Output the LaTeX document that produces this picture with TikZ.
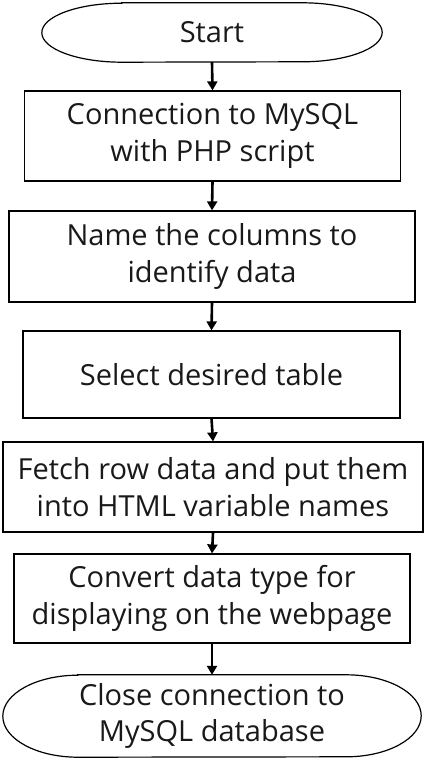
\documentclass[tikz,border=0pt]{standalone}
\usepackage{fontspec}
\setmainfont{Open Sans}
\usetikzlibrary{arrows.meta,calc}
\begin{document}
\begin{tikzpicture}[x=1pt,y=-1pt,
  box/.style={draw=black,line width=1.2pt,inner sep=0pt,align=center,
    font=\fontsize{29}{36.5}\selectfont,text=black!90},
  term/.style={inner sep=0pt,align=center,font=\fontsize{29}{36.5}\selectfont,text=black!90},
  arr/.style={line width=2.6pt,-{Triangle[length=9pt,width=10pt]}}]
\useasboundingbox (0,0) rectangle (425,759);
\node[term,minimum width=340pt,minimum height=59pt] (s) at (212,32.5) {Start};
\node[box,minimum width=376pt,minimum height=90pt] (b1) at (212.5,136) {Connection to MySQL\\with PHP script};
\node[box,minimum width=406pt,minimum height=91pt] (b2) at (212,256.5) {Name the columns to\\identify data};
\node[box,minimum width=377pt,minimum height=87pt] (b3) at (211.5,374.5) {Select desired table};
\node[box,minimum width=420pt,minimum height=90pt] (b4) at (213,487) {Fetch row data and put them\\into HTML variable names};
\node[box,minimum width=396pt,minimum height=89pt] (b5) at (212,598.5) {Convert data type for\\displaying on the webpage};
\node[term,minimum width=418pt,minimum height=82pt] (e) at (212,716) {Close connection to\\MySQL database};
\draw[line width=1.2pt] ([xshift=80pt]s.north west) -- ([xshift=-80pt]s.north east)
  arc[start angle=90,end angle=-90,x radius=80pt,y radius=29.5pt]
  -- ([xshift=80pt]s.south west)
  arc[start angle=270,end angle=90,x radius=80pt,y radius=29.5pt] -- cycle;
\draw[line width=1.2pt] ([xshift=75pt]e.north west) -- ([xshift=-75pt]e.north east)
  arc[start angle=90,end angle=-90,x radius=75pt,y radius=41pt]
  -- ([xshift=75pt]e.south west)
  arc[start angle=270,end angle=90,x radius=75pt,y radius=41pt] -- cycle;
\draw[arr] (s.south) -- (b1.north);
\draw[arr] (b1.south) -- (b2.north);
\draw[arr] (b2.south) -- (b3.north);
\draw[arr] (b3.south) -- (b4.north);
\draw[arr] (b4.south) -- (b5.north);
\draw[arr] (b5.south) -- (e.north);
\end{tikzpicture}
\end{document}
